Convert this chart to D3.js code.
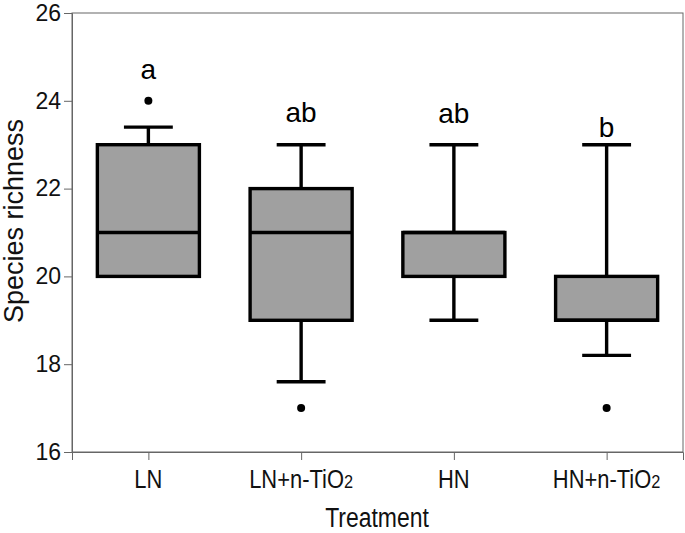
<!DOCTYPE html>
<html><head><meta charset="utf-8">
<script src="https://cdn.jsdelivr.net/npm/d3@7"></script>
<style>body{margin:0;background:#fff}svg{display:block}text{font-family:"Liberation Sans",Arial,sans-serif}</style>
</head><body><svg id="c" width="685" height="533"></svg>
<script>
const categories = ["LN", "LN+n-TiO2", "HN", "HN+n-TiO2"];
const whiskerLow  = [20, 17.6, 19, 18.2];
const q1          = [20, 19, 20, 19];
const median      = [21, 21, 21, 19];
const q3          = [23, 22, 21, 20];
const whiskerHigh = [23.4, 23, 23, 23];
const outliers    = [[24], [17], [], [17]];
const letters     = ["a", "ab", "ab", "b"];
const letterY     = [24.5, 23.52, 23.5, 23.17];
const yTicks      = [16, 18, 20, 22, 24, 26];

const svg = d3.select("#c");
const L = 72, R = 683, T = 13, B = 452;
const x = d3.scalePoint().domain(categories).range([L, R]).padding(0.5);
const y = d3.scaleLinear().domain([16, 26]).range([B, T]);
const step = x.step();
const bw = step * 0.668, cw = step * 0.32;

// frame
svg.append("rect").attr("x", L).attr("y", T).attr("width", R - L).attr("height", B - T)
  .attr("fill", "none").attr("stroke", "#666").attr("stroke-width", 1);

// y axis
const ya = svg.append("g").attr("transform", `translate(${L},0)`)
  .call(d3.axisLeft(y).tickValues(yTicks).tickSize(8).tickPadding(3).tickFormat(d3.format("d")));
ya.select(".domain").attr("stroke", "#666");
ya.selectAll(".tick line").attr("stroke", "#666");
ya.selectAll(".tick text").attr("font-size", 23).attr("fill", "#111").attr("font-family", '"Liberation Sans",Arial,sans-serif');

// x axis
const xa = svg.append("g").attr("transform", `translate(0,${B})`)
  .call(d3.axisBottom(x).tickSize(8).tickFormat(""));
xa.select(".domain").attr("stroke", "#666");
xa.selectAll(".tick line").attr("stroke", "#666");

categories.forEach(c => {
  const t = svg.append("text").attr("x", x(c)).attr("y", 488).attr("text-anchor", "middle")
    .attr("font-size", 25.5).attr("fill", "#111");
  const m = c.match(/^(.*)(\d)$/);
  if (m) {
    t.append("tspan").text(m[1]);
    t.append("tspan").attr("font-size", 19).text(m[2]);
  } else t.text(c);
  t.attr("transform", `translate(${x(c)},0) scale(0.86,1) translate(${-x(c)},0)`);
});

// axis titles
svg.append("text").attr("x", 377).attr("y", 527).attr("text-anchor", "middle")
  .attr("font-size", 27).attr("fill", "#111")
  .attr("transform", "translate(377,0) scale(0.85,1) translate(-377,0)").text("Treatment");
svg.append("text").attr("transform", "translate(23,221) rotate(-90)").attr("text-anchor", "middle")
  .attr("font-size", 27).attr("fill", "#111").text("Species richness");

// boxes
const g = svg.append("g");
categories.forEach((c, i) => {
  const cx = x(c);
  const sw = 3.4;
  if (whiskerHigh[i] > q3[i]) {
    g.append("line").attr("x1", cx).attr("x2", cx).attr("y1", y(q3[i])).attr("y2", y(whiskerHigh[i])).attr("stroke", "#000").attr("stroke-width", sw);
    g.append("line").attr("x1", cx - cw / 2).attr("x2", cx + cw / 2).attr("y1", y(whiskerHigh[i])).attr("y2", y(whiskerHigh[i])).attr("stroke", "#000").attr("stroke-width", sw);
  }
  if (whiskerLow[i] < q1[i]) {
    g.append("line").attr("x1", cx).attr("x2", cx).attr("y1", y(q1[i])).attr("y2", y(whiskerLow[i])).attr("stroke", "#000").attr("stroke-width", sw);
    g.append("line").attr("x1", cx - cw / 2).attr("x2", cx + cw / 2).attr("y1", y(whiskerLow[i])).attr("y2", y(whiskerLow[i])).attr("stroke", "#000").attr("stroke-width", sw);
  }
  g.append("rect").attr("x", cx - bw / 2).attr("y", y(q3[i])).attr("width", bw).attr("height", y(q1[i]) - y(q3[i]))
    .attr("fill", "#a0a0a0").attr("stroke", "#000").attr("stroke-width", sw);
  g.append("line").attr("x1", cx - bw / 2).attr("x2", cx + bw / 2).attr("y1", y(median[i])).attr("y2", y(median[i])).attr("stroke", "#000").attr("stroke-width", sw);
  outliers[i].forEach(o => g.append("circle").attr("cx", cx).attr("cy", y(o)).attr("r", 4).attr("fill", "#000"));
  g.append("text").attr("x", cx).attr("y", y(letterY[i])).attr("text-anchor", "middle")
    .attr("font-size", 28).attr("fill", "#000").text(letters[i]);
});
</script></body></html>
